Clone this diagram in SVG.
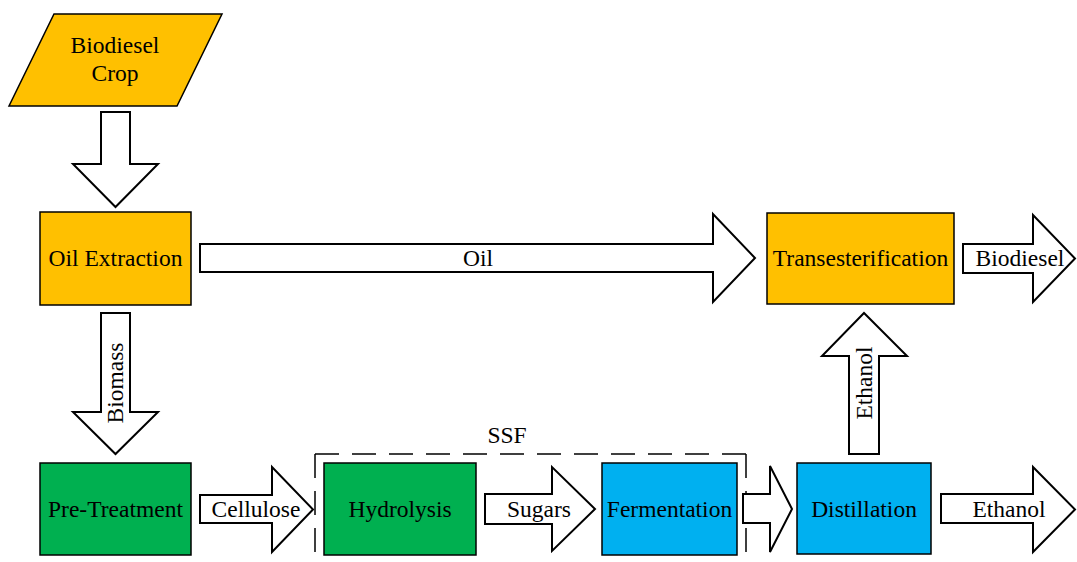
<svg xmlns="http://www.w3.org/2000/svg" width="1077" height="562" viewBox="0 0 1077 562">
<style>
.t{font-family:"Liberation Serif","Times New Roman",serif;font-size:23.5px;fill:#000;text-anchor:middle}
.or{fill:#FFC000;stroke:#000;stroke-width:1.5}
.gr{fill:#00B050;stroke:#000;stroke-width:1.5}
.bl{fill:#00B0F0;stroke:#000;stroke-width:1.5}
.ar{fill:#fff;stroke:#000;stroke-width:2;stroke-linejoin:miter}
.ds{fill:none;stroke:#000;stroke-width:1.5;stroke-dasharray:24 13}
</style>
<rect width="1077" height="562" fill="#fff"/>
<g id="ssf">
<path class="ds" d="M315,454 H746"/>
<path class="ds" d="M315,454 V575"/>
<path class="ds" d="M746,454 V575"/>
<text class="t" x="507" y="443">SSF</text>
</g>
<g id="connectors">
<g id="arrow-crop-oil"><polygon class="ar" points="101,112 130,112 130,164 158,164 115.5,207 73,164 101,164"/></g>
<g id="arrow-biomass"><polygon class="ar" points="101,313 130,313 130,412 158,412 115.5,454 73,412 101,412"/><text class="t" transform="translate(123,383) rotate(-90)">Biomass</text></g>
<g id="arrow-oil"><polygon class="ar" points="200,244 713,244 713,214 755,258 713,302 713,272 200,272"/><text class="t" x="478" y="266">Oil</text></g>
<g id="arrow-biodiesel"><polygon class="ar" points="963,244 1033,244 1033,215 1075,258.5 1033,302 1033,273 963,273"/><text class="t" x="1020" y="266">Biodiesel</text></g>
<g id="arrow-ethanol-up"><polygon class="ar" points="849,454 849,356 822,356 864,313 907,356 879,356 879,454"/><text class="t" transform="translate(872,383) rotate(-90)">Ethanol</text></g>
<g id="arrow-cellulose"><polygon class="ar" points="200,495 272,495 272,467 313,509.5 272,552 272,523 200,523"/><text class="t" x="256" y="517">Cellulose</text></g>
<g id="arrow-sugars"><polygon class="ar" points="485,494 552,494 552,467 595,509 552,551 552,524 485,524"/><text class="t" x="539" y="517">Sugars</text></g>
<g id="arrow-ferm-dist"><polygon class="ar" points="743,494 770,494 770,466 792,509 770,552 770,523 743,523"/></g>
<g id="arrow-ethanol-out"><polygon class="ar" points="941,494 1033,494 1033,467 1075,509.5 1033,552 1033,523 941,523"/><text class="t" x="1009" y="517">Ethanol</text></g>
</g>
<g id="biodiesel-crop"><polygon class="or" points="54,14 222,14 177,106 9,106"/><text class="t" x="115" y="53">Biodiesel</text><text class="t" x="115" y="81">Crop</text></g>
<g id="oil-extraction"><rect class="or" x="40" y="212" width="151" height="93"/><text class="t" x="115.5" y="266">Oil Extraction</text></g>
<g id="transesterification"><rect class="or" x="767" y="213" width="187" height="91"/><text class="t" x="860.5" y="266">Transesterification</text></g>
<g id="pre-treatment"><rect class="gr" x="40" y="463" width="151" height="92"/><text class="t" x="115.5" y="517">Pre-Treatment</text></g>
<g id="hydrolysis"><rect class="gr" x="324" y="463" width="152" height="92"/><text class="t" x="400" y="517">Hydrolysis</text></g>
<g id="fermentation"><rect class="bl" x="602" y="463" width="135" height="92"/><text class="t" x="669.5" y="517">Fermentation</text></g>
<g id="distillation"><rect class="bl" x="797" y="463" width="134" height="91"/><text class="t" x="864" y="517">Distillation</text></g>
</svg>
